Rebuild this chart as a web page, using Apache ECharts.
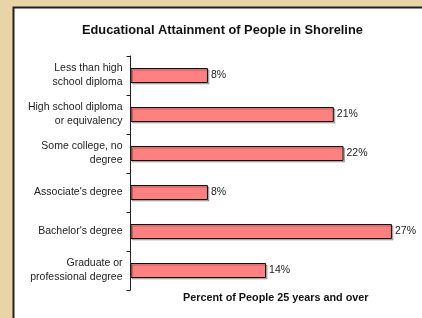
<!DOCTYPE html>
<html lang="en">

<head>
  <meta charset="UTF-8">
  <title>Educational Attainment</title>
  <style>
    html, body { margin: 0; padding: 0; overflow: hidden; background: #E8D4A7; }
    #main {
      width: 422px;
      height: 318px;
    }
  </style>
</head>

<body>
  <div id="main"></div>
  <script src="https://cdn.jsdelivr.net/npm/echarts@6/dist/echarts.min.js"></script>
  <script>
    const myChart = echarts.init(document.getElementById('main'));

    // categories, top to bottom
    const categories = [
      'Less than high\nschool diploma',
      'High school diploma\nor equivalency',
      'Some college, no\ndegree',
      "Associate's degree",
      "Bachelor's degree",
      'Graduate or\nprofessional degree'
    ];
    // percent of people 25 years and over
    const percents = [8, 21, 22, 8, 27, 14];

    const font = 'Arial, "Liberation Sans", sans-serif';

    const option = {
      backgroundColor: '#E8D4A7',
      title: {
        text: 'Educational Attainment of People in Shoreline',
        left: 77,
        top: 19,
        textStyle: { fontSize: 12.8, fontWeight: 'bold', color: '#111', fontFamily: font }
      },
      // white chart panel, runs off the right and bottom of the page
      graphic: [{
        type: 'rect',
        z: -10,
        shape: { x: 13.5, y: 7.5, width: 900, height: 900 },
        style: { fill: '#fff', stroke: '#222', lineWidth: 2 }
      }],
      grid: { left: 130.5, right: 1, top: 56, bottom: 28 },
      xAxis: {
        type: 'value',
        min: 0,
        max: 30,
        name: 'Percent of People 25 years and over',
        nameLocation: 'middle',
        nameGap: 3,
        nameTextStyle: { fontSize: 10.8, fontWeight: 'bold', color: '#111', fontFamily: font, verticalAlign: 'top' },
        axisLine: { show: false },
        axisTick: { show: false },
        axisLabel: { show: false },
        splitLine: { show: false }
      },
      yAxis: {
        type: 'category',
        data: categories,
        inverse: true,
        axisLine: { show: true, lineStyle: { color: '#222', width: 1 } },
        axisTick: { show: true, alignWithLabel: false, length: 4, lineStyle: { color: '#222', width: 1 } },
        axisLabel: {
          margin: 8,
          fontSize: 10.5,
          lineHeight: 14,
          color: '#222',
          fontFamily: font,
          align: 'right'
        }
      },
      series: [{
        type: 'bar',
        data: percents,
        barWidth: 15,
        itemStyle: {
          color: '#FF8080',
          borderColor: '#111',
          borderWidth: 1,
          shadowColor: 'rgba(0,0,0,0.25)',
          shadowOffsetX: 1.5,
          shadowOffsetY: 1.5,
          shadowBlur: 0
        },
        label: {
          show: true,
          position: 'right',
          distance: 3,
          formatter: '{c}%',
          fontSize: 10.5,
          color: '#222',
          fontFamily: font
        },
        animation: false
      }]
    };

    myChart.setOption(option);
  </script>
</body>

</html>
